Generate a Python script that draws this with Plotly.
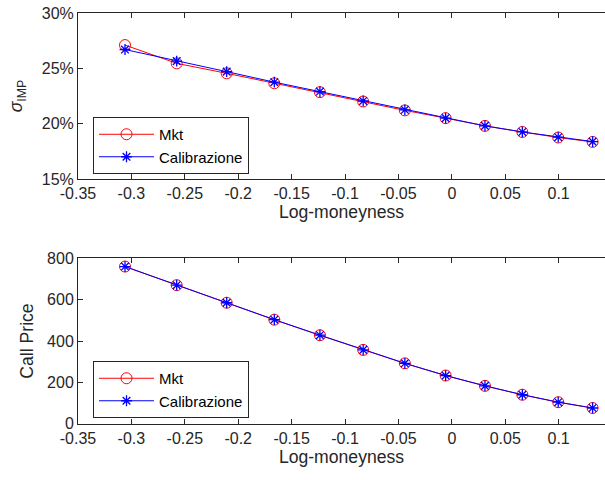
import plotly.graph_objects as go

# Data
log_moneyness = [-0.306, -0.2576, -0.2108, -0.1662, -0.1235, -0.083,
                 -0.044, -0.0058, 0.031, 0.066, 0.0996, 0.1318]
vol_mkt = [0.271, 0.2545, 0.2455, 0.2365, 0.2285, 0.2200,
           0.2120, 0.2050, 0.1980, 0.1925, 0.1875, 0.1835]
vol_calib = [0.267, 0.2565, 0.2470, 0.2375, 0.2290, 0.2205,
             0.2125, 0.2050, 0.1980, 0.1925, 0.1878, 0.1838]
price_mkt = [760, 670, 585, 503, 428, 357, 292, 233, 183, 140, 104, 76]
price_calib = [760, 670, 585, 503, 428, 357, 292, 233, 183, 140, 104, 76]

x_ticks = [-0.35, -0.3, -0.25, -0.2, -0.15, -0.1, -0.05, 0, 0.05, 0.1, 0.15]
x_ticklabels = ["-0.35", "-0.3", "-0.25", "-0.2", "-0.15", "-0.1", "-0.05", "0", "0.05", "0.1", "0.15"]
vol_ticks = [0.15, 0.20, 0.25, 0.30]
price_ticks = [0, 200, 400, 600, 800]

TXT = "#262626"
FONT = "Liberation Sans, Arial, sans-serif"

fig = go.Figure()

def add_pair(x, y1, y2, xa, ya, leg, show):
    fig.add_trace(go.Scatter(
        x=x, y=y1, mode="lines+markers", name="Mkt",
        line=dict(color="#FF0000", width=1),
        marker=dict(symbol="circle-open", size=11, color="#FF0000",
                    line=dict(color="#FF0000", width=1)),
        xaxis=xa, yaxis=ya, legend=leg, showlegend=show))
    fig.add_trace(go.Scatter(
        x=x, y=y2, mode="lines+markers", name="Calibrazione",
        line=dict(color="#0000FF", width=1),
        marker=dict(symbol="asterisk-open", size=9, color="#0000FF",
                    line=dict(color="#0000FF", width=1.3)),
        xaxis=xa, yaxis=ya, legend=leg, showlegend=show))

add_pair(log_moneyness, vol_mkt, vol_calib, "x", "y", "legend", True)
add_pair(log_moneyness, price_mkt, price_calib, "x2", "y2", "legend2", True)

xcommon = dict(
    range=[-0.35, 0.1434], tickvals=x_ticks, ticktext=x_ticklabels,
    ticks="inside", ticklen=5, tickcolor=TXT, tickwidth=1,
    showline=True, linecolor=TXT, linewidth=1, mirror="ticks",
    showgrid=False, zeroline=False, automargin=False,
    tickfont=dict(size=16, color=TXT, family=FONT),
    title=dict(text="Log-moneyness", font=dict(size=17.6, color=TXT, family=FONT), standoff=4),
    domain=[78/605, 1.0],
)

fig.update_layout(
    width=605, height=480,
    margin=dict(l=0, r=0, t=0, b=0),
    paper_bgcolor="white", plot_bgcolor="white",
    font=dict(family=FONT, color=TXT),
    xaxis=dict(xcommon, anchor="y"),
    xaxis2=dict(xcommon, anchor="y2"),
    yaxis=dict(
        range=[0.15, 0.30], tickvals=vol_ticks, tickformat=".0%",
        ticks="inside", ticklen=5, tickcolor=TXT, tickwidth=1,
        showline=True, linecolor=TXT, linewidth=1, mirror=False,
        showgrid=False, zeroline=False, automargin=False,
        tickfont=dict(size=16, color=TXT, family=FONT),
        title=dict(text="<i>σ</i><sub>IMP</sub>", font=dict(size=17.6, color=TXT, family=FONT), standoff=14),
        domain=[1-179/480, 1-13/480], anchor="x",
    ),
    yaxis2=dict(
        range=[0, 800], tickvals=price_ticks,
        ticks="inside", ticklen=5, tickcolor=TXT, tickwidth=1,
        showline=True, linecolor=TXT, linewidth=1, mirror=False,
        showgrid=False, zeroline=False, automargin=False,
        tickfont=dict(size=16, color=TXT, family=FONT),
        title=dict(text="Call Price", font=dict(size=17.6, color=TXT, family=FONT), standoff=8),
        domain=[1-423.7/480, 1-258.3/480], anchor="x2",
    ),
    legend=dict(x=93/605, y=1-117/480, xanchor="left", yanchor="top",
                bgcolor="white", bordercolor=TXT, borderwidth=1,
                font=dict(size=15, color="#000000", family=FONT),
                tracegroupgap=0, itemwidth=55),
    legend2=dict(x=93/605, y=1-361/480, xanchor="left", yanchor="top",
                 bgcolor="white", bordercolor=TXT, borderwidth=1,
                 font=dict(size=15, color="#000000", family=FONT),
                 tracegroupgap=0, itemwidth=55),
)

fig.write_html("out.html", config={"displayModeBar": False},
               post_script="document.body.style.margin='0';document.body.style.overflow='hidden';")
